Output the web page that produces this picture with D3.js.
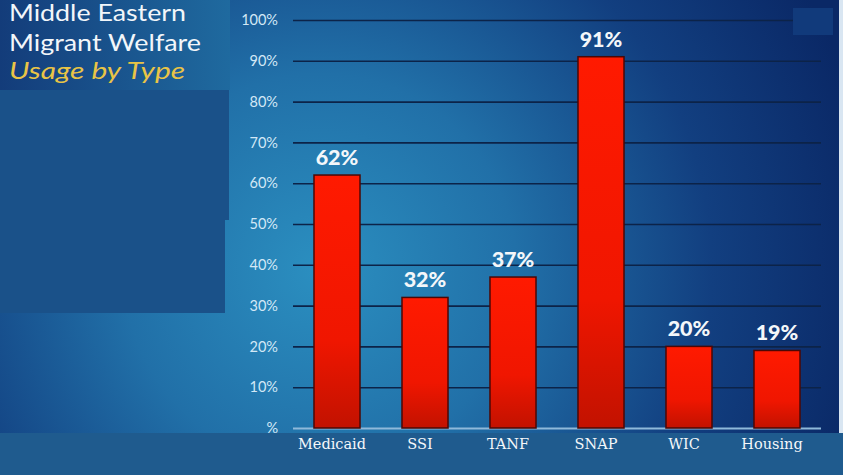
<!DOCTYPE html>
<html>
<head>
<meta charset="utf-8">
<title>Middle Eastern Migrant Welfare Usage by Type</title>
<script src="https://cdnjs.cloudflare.com/ajax/libs/d3/7.8.5/d3.min.js"></script>
<style>
  body { margin: 0; background: #1f5b8e; overflow: hidden; }
  #chart { width: 843px; height: 475px; }
</style>
</head>
<body>
<div id="chart"></div>
<script>
// data
const categories = ["Medicaid", "SSI", "TANF", "SNAP", "WIC", "Housing"];
const usage = [62, 32, 37, 91, 20, 19];
const tickValues = [0, 10, 20, 30, 40, 50, 60, 70, 80, 90, 100];
const tickLabels = ["%", "10%", "20%", "30%", "40%", "50%", "60%", "70%", "80%", "90%", "100%"];
const titleLines = ["Middle Eastern", "Migrant Welfare"];
const subtitle = "Usage by Type";

const width = 843, height = 475;
const plot = { left: 293, right: 821, top: 20, bottom: 428 };

const svg = d3.select("#chart").append("svg")
    .attr("width", width)
    .attr("height", height);

const defs = svg.append("defs");

// background glow, lighter left of centre, navy to the right
const bg = defs.append("radialGradient")
    .attr("id", "bg")
    .attr("gradientUnits", "userSpaceOnUse")
    .attr("cx", 320).attr("cy", 270).attr("r", 560);
bg.append("stop").attr("offset", "0%").attr("stop-color", "#2b8fc0");
bg.append("stop").attr("offset", "35%").attr("stop-color", "#2170a8");
bg.append("stop").attr("offset", "70%").attr("stop-color", "#123f80");
bg.append("stop").attr("offset", "100%").attr("stop-color", "#0a2866");

const titleGrad = defs.append("linearGradient")
    .attr("id", "titleGrad")
    .attr("x1", 0).attr("x2", 1).attr("y1", 0).attr("y2", 0);
titleGrad.append("stop").attr("offset", "0%").attr("stop-color", "#133c7a");
titleGrad.append("stop").attr("offset", "100%").attr("stop-color", "#1f6a9f");

const barGrad = defs.append("linearGradient")
    .attr("id", "barGrad")
    .attr("x1", 0).attr("x2", 0).attr("y1", 0).attr("y2", 1);
barGrad.append("stop").attr("offset", "0%").attr("stop-color", "#ff1a00");
barGrad.append("stop").attr("offset", "65%").attr("stop-color", "#f01600");
barGrad.append("stop").attr("offset", "100%").attr("stop-color", "#c21200");

svg.append("rect")
    .attr("width", width).attr("height", height)
    .attr("fill", "url(#bg)");

// thin pale strip on the right edge
svg.append("rect")
    .attr("x", 839).attr("y", 0).attr("width", 4).attr("height", 433)
    .attr("fill", "#d9e6f2");

// left panels
svg.append("rect")
    .attr("x", 0).attr("y", 90).attr("width", 229).attr("height", 130)
    .attr("fill", "#1a5189");
svg.append("rect")
    .attr("x", 0).attr("y", 220).attr("width", 225).attr("height", 93)
    .attr("fill", "#1a5189");
svg.append("rect")
    .attr("x", 0).attr("y", 0).attr("width", 230).attr("height", 90)
    .attr("fill", "url(#titleGrad)");

// title, stretched a bit to the wide look of the original face
const titleWidths = [177, 192];
const title = svg.append("g")
    .attr("font-family", "Lato, 'Open Sans', sans-serif")
    .attr("font-size", 22.5);
title.selectAll("text.line")
    .data(titleLines)
    .join("text")
    .attr("class", "line")
    .attr("x", 9)
    .attr("y", (d, i) => 21 + i * 29.5)
    .attr("fill", "#f2f6fa")
    .attr("textLength", (d, i) => titleWidths[i])
    .attr("lengthAdjust", "spacingAndGlyphs")
    .text(d => d);
title.append("text")
    .attr("x", 9).attr("y", 79)
    .attr("fill", "#e9c446")
    .attr("font-style", "italic")
    .attr("textLength", 176)
    .attr("lengthAdjust", "spacingAndGlyphs")
    .text(subtitle);

// scales
const x = d3.scaleBand()
    .domain(categories)
    .range([plot.left, plot.right])
    .paddingInner(0.477)
    .paddingOuter(0.2385);

const y = d3.scaleLinear()
    .domain([0, 100])
    .range([plot.bottom, plot.top]);

// gridlines + tick labels
const yAxis = svg.append("g")
    .attr("transform", `translate(${plot.left},0)`)
    .call(d3.axisLeft(y)
        .tickValues(tickValues)
        .tickSize(-(plot.right - plot.left))
        .tickPadding(14)
        .tickFormat((d, i) => tickLabels[i]));
yAxis.select(".domain").remove();
yAxis.selectAll(".tick line")
    .attr("stroke", "#0c2348")
    .attr("stroke-width", 1.6);
yAxis.selectAll(".tick").filter(d => d === 0).select("line")
    .attr("stroke", "#8fb9da")
    .attr("stroke-width", 2);
yAxis.selectAll(".tick text")
    .attr("fill", "#d3e8f6")
    .attr("font-family", "Lato, sans-serif")
    .attr("font-size", 14.5)
    .attr("x", -15);

// small square that hides the end of the top gridline
svg.append("rect")
    .attr("x", 793).attr("y", 8).attr("width", 40).attr("height", 27)
    .attr("fill", "#113a7b");

// bars
svg.append("g")
    .selectAll("rect")
    .data(usage)
    .join("rect")
    .attr("x", (d, i) => x(categories[i]))
    .attr("y", d => y(d))
    .attr("width", x.bandwidth())
    .attr("height", d => y(0) - y(d))
    .attr("fill", "url(#barGrad)")
    .attr("stroke", "#4b0806")
    .attr("stroke-width", 1.5);

// value labels
svg.append("g")
    .selectAll("text")
    .data(usage)
    .join("text")
    .attr("x", (d, i) => x(categories[i]) + x.bandwidth() / 2)
    .attr("y", d => y(d) - 10)
    .attr("text-anchor", "middle")
    .attr("fill", "#f4f7fa")
    .attr("font-family", "Lato, sans-serif")
    .attr("font-weight", 900)
    .attr("font-size", 21.5)
    .text(d => d + "%");

// bottom band
svg.append("rect")
    .attr("x", 0).attr("y", 433).attr("width", width).attr("height", height - 433)
    .attr("fill", "#1f5b8e");

// category labels
svg.append("g")
    .selectAll("text")
    .data(categories)
    .join("text")
    .attr("x", d => x(d) + x.bandwidth() / 2 - 5)
    .attr("y", 449)
    .attr("text-anchor", "middle")
    .attr("fill", "#f4f7fa")
    .attr("font-family", "'DejaVu Serif', serif")
    .attr("font-size", 14.5)
    .text(d => d);
</script>
</body>
</html>
